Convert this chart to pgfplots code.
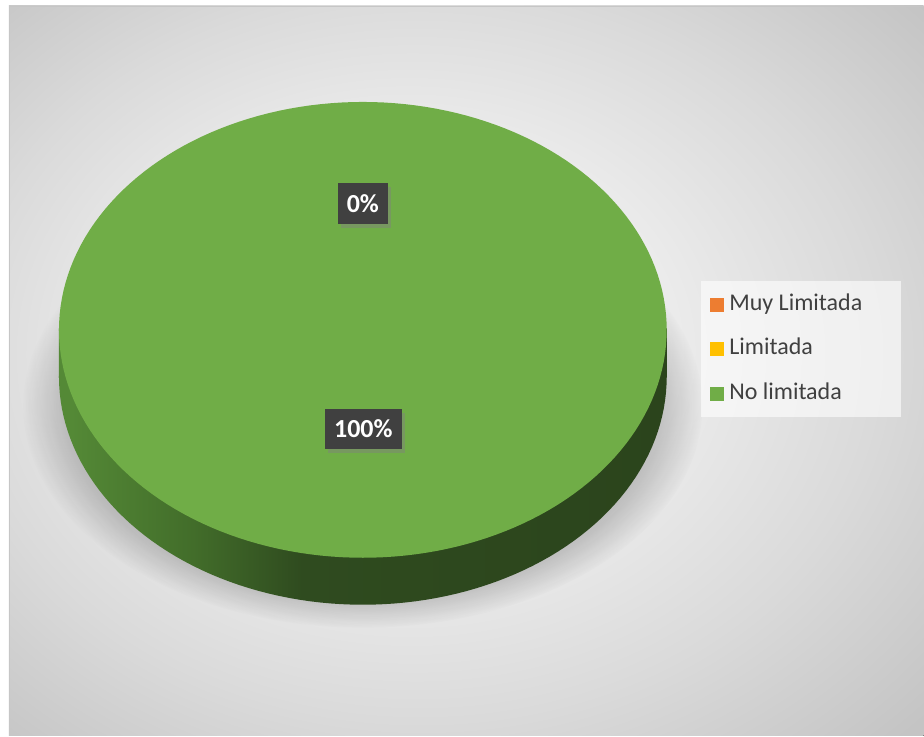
\documentclass[border=0pt]{standalone}
\usepackage{pgfplots}
\pgfplotsset{compat=1.18}
\usepackage{pgfplotstable}
\usepackage{fontspec}
\setmainfont{Carlito}
\usetikzlibrary{shadows,fadings}
\definecolor{cOrange}{HTML}{ED7D31}
\definecolor{cYellow}{HTML}{FFC000}
\definecolor{cGreen}{HTML}{70AD47}
\definecolor{lblbg}{HTML}{404040}
\definecolor{txt}{HTML}{404040}
\definecolor{s1}{HTML}{548936}
\definecolor{s2}{HTML}{426D2A}
\definecolor{s3}{HTML}{2F4B1F}
\definecolor{s4}{HTML}{2B441C}
\definecolor{bg0}{HTML}{F7F7F7}
\definecolor{bg1}{HTML}{DADADA}
\definecolor{bg2}{HTML}{C4C4C4}
\pgfdeclarehorizontalshading{pieside}{100bp}{color(0bp)=(s1); color(26bp)=(s1); color(36bp)=(s2); color(45bp)=(s3); color(75bp)=(s4); color(100bp)=(s4)}
\pgfdeclareradialshading{bgshade}{\pgfpoint{-5bp}{2bp}}{color(0bp)=(bg0); color(8bp)=(bg0); color(25bp)=(bg1); color(36bp)=(bg2); color(50bp)=(bg2)}
\pgfdeclareradialshading{shfade}{\pgfpoint{0bp}{0bp}}{color(0bp)=(white); color(18bp)=(white); color(22bp)=(white!55!black); color(25bp)=(black); color(50bp)=(black)}
\pgfdeclarefading{pieshadow}{\pgfuseshading{shfade}}
\pgfplotsset{
  sqleg/.style={/pgfplots/legend image code/.code={%
    \path (0pt,0pt) (17pt,0pt);
    \fill[#1, fill opacity=1, draw=none] (0pt,-7pt) rectangle (14pt,7pt);}},
}

% share of each category (percent)
\pgfplotstableread{
cat value
MuyLimitada 0
Limitada 0
NoLimitada 100
}\piedata

\begin{document}
\begin{tikzpicture}
\begin{axis}[
  at={(0,0)}, anchor=south west,
  width=924pt, height=736pt, scale only axis,
  xmin=0, xmax=924, ymin=0, ymax=736,
  hide axis, clip=false,
  legend cell align=left,
  legend style={at={(axis cs:701,455)}, anchor=north west, draw=none,
    fill=white, fill opacity=0.6, text opacity=1,
    font=\fontsize{24}{28}\selectfont, text=txt,
    inner xsep=9pt, inner ysep=10pt, row sep=17.5pt,
    nodes={inner sep=2pt, text height=17pt, text depth=6pt},
    /tikz/every even column/.append style={column sep=2pt}},
]
% background
\fill[white] (axis cs:0,0) rectangle (axis cs:924,736);
\fill[shading=bgshade] (axis cs:9,0) rectangle (axis cs:924,730);
\draw[gray!45, line width=0.8pt] (axis cs:9.5,0) -- (axis cs:9.5,730) -- (axis cs:924,730);
% soft shadow of the pie
\fill[black, opacity=0.3, path fading=pieshadow] (axis cs:363,330) ellipse [x radius=340, y radius=222];

% side of the disc
\addplot[forget plot, draw=none, shade, shading=pieside, domain=0:360, samples=181] ({363+304*cos(x)}, {359+228*sin(x)});
\addplot[forget plot, draw=none, shade, shading=pieside] coordinates {(59,358) (667,358) (667,407) (59,407)} -- cycle;
% top face: No limitada = 100 % -> 360 degrees
\addplot[forget plot, draw=none, fill=cGreen, domain=90:450, samples=181] ({363+304*cos(x)}, {406+228*sin(x)});

% data labels
\node[fill=lblbg, text=white, font=\fontsize{26}{26}\selectfont\bfseries,
  minimum height=41pt, inner xsep=9pt,
  drop shadow={shadow xshift=3pt, shadow yshift=-4pt, opacity=0.45}] at (axis cs:363,532.5) {0\%};
\node[fill=lblbg, text=white, font=\fontsize{26}{26}\selectfont\bfseries,
  minimum height=40pt, inner xsep=9pt,
  drop shadow={shadow xshift=3pt, shadow yshift=-4pt, opacity=0.45}] at (axis cs:363.5,307) {100\%};

% legend
\addlegendimage{sqleg=cOrange}
\addlegendentry{\makebox[161pt][l]{Muy Limitada}}
\addlegendimage{sqleg=cYellow}
\addlegendentry{\makebox[161pt][l]{Limitada}}
\addlegendimage{sqleg=cGreen}
\addlegendentry{\makebox[161pt][l]{No limitada}}
\end{axis}
\end{tikzpicture}
\end{document}
